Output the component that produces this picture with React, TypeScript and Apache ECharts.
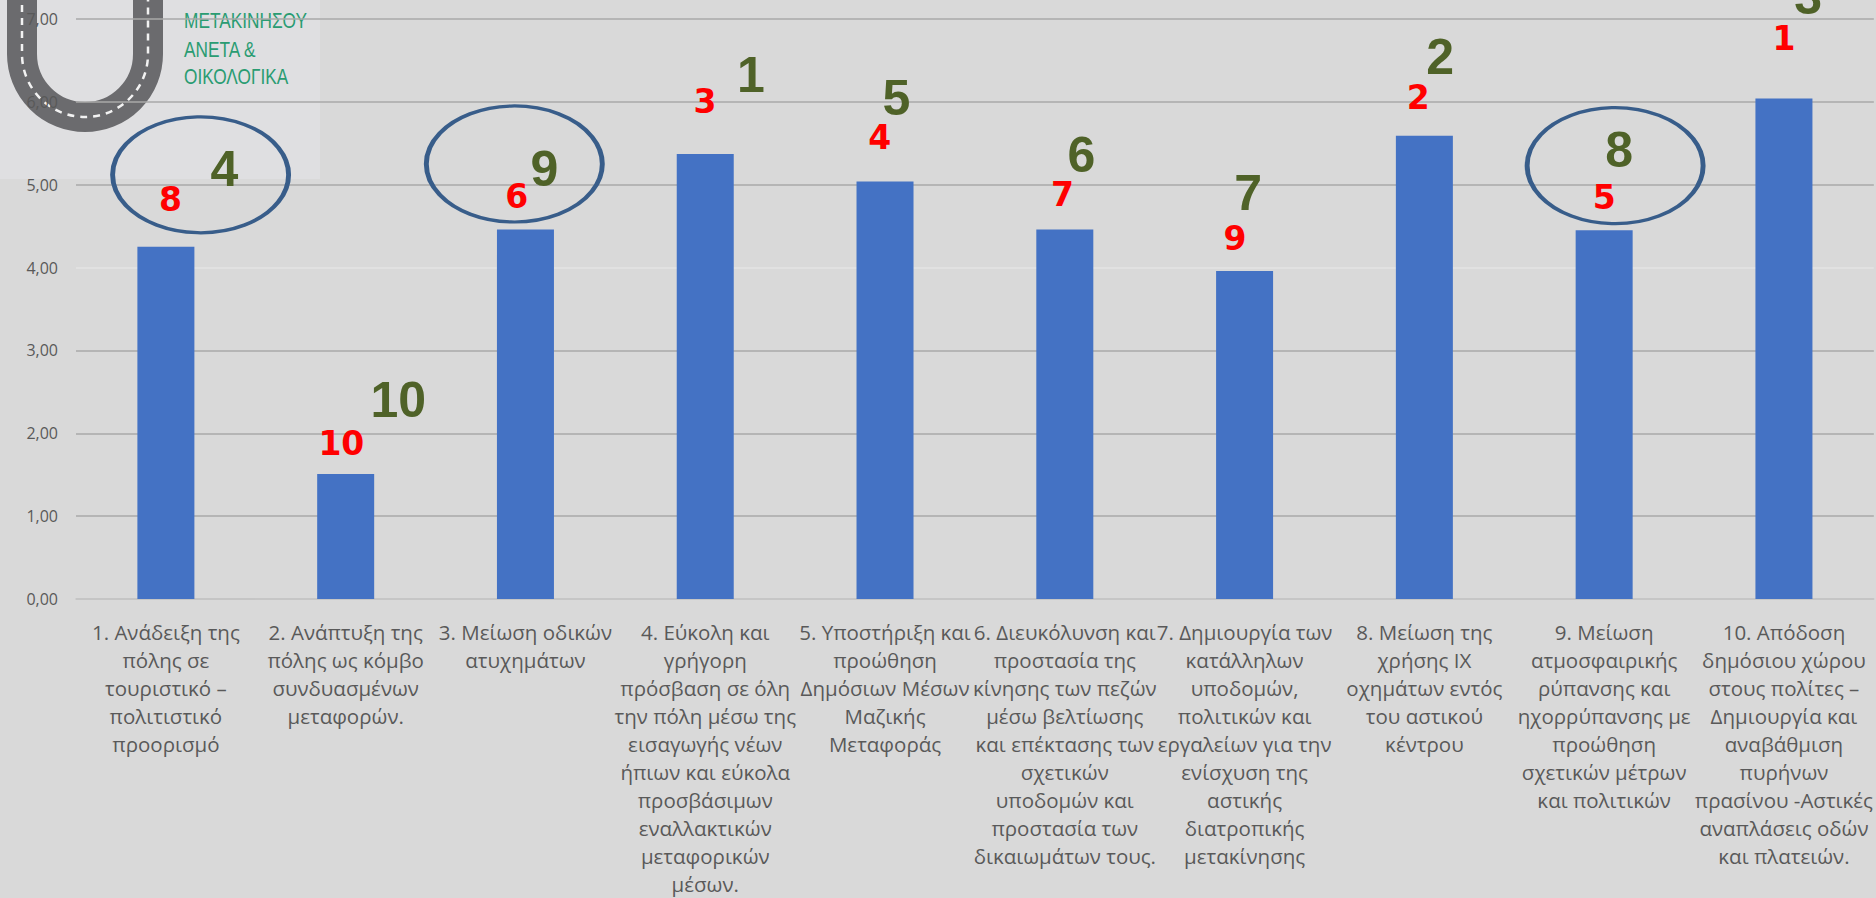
import React, { useEffect, useRef } from "react";
import * as echarts from "echarts";

// ---------- data ----------
const categories: string[] = [
  "1. Ανάδειξη της\nπόλης σε\nτουριστικό –\nπολιτιστικό\nπροορισμό",
  "2. Ανάπτυξη της\nπόλης ως κόμβο\nσυνδυασμένων\nμεταφορών.",
  "3. Μείωση οδικών\nατυχημάτων",
  "4. Εύκολη και\nγρήγορη\nπρόσβαση σε όλη\nτην πόλη μέσω της\nεισαγωγής νέων\nήπιων και εύκολα\nπροσβάσιμων\nεναλλακτικών\nμεταφορικών\nμέσων.",
  "5. Υποστήριξη και\nπροώθηση\nΔημόσιων Μέσων\nΜαζικής\nΜεταφοράς",
  "6. Διευκόλυνση και\nπροστασία της\nκίνησης των πεζών\nμέσω βελτίωσης\nκαι επέκτασης των\nσχετικών\nυποδομών και\nπροστασία των\nδικαιωμάτων τους.",
  "7. Δημιουργία των\nκατάλληλων\nυποδομών,\nπολιτικών και\nεργαλείων για την\nενίσχυση της\nαστικής\nδιατροπικής\nμετακίνησης",
  "8. Μείωση της\nχρήσης ΙΧ\nοχημάτων εντός\nτου αστικού\nκέντρου",
  "9. Μείωση\nατμοσφαιρικής\nρύπανσης και\nηχορρύπανσης με\nπροώθηση\nσχετικών μέτρων\nκαι πολιτικών",
  "10. Απόδοση\nδημόσιου χώρου\nστους πολίτες –\nΔημιουργία και\nαναβάθμιση\nπυρήνων\nπρασίνου -Αστικές\nαναπλάσεις οδών\nκαι πλατειών.",
];

const scores: number[] = [4.25, 1.51, 4.46, 5.37, 5.04, 4.46, 3.96, 5.59, 4.45, 6.04];

const yTickValues: number[] = [0, 1, 2, 3, 4, 5, 6, 7];

// rank annotations (red and green)
const redRanks: number[] = [8, 10, 6, 3, 4, 7, 9, 2, 5, 1];
const greenRanks: number[] = [4, 10, 9, 1, 5, 6, 7, 2, 8, 3];

// annotation anchors in data space (category index, value)
const redAnchorX: number[] = [0.025, 0.976, 1.952, 2.999, 3.971, 4.987, 5.947, 6.966, 8.0, 9.0];
const redAnchorY: number[] = [4.82, 1.88, 4.855, 6.01, 5.57, 4.88, 4.35, 6.05, 4.85, 6.77];
const greenAnchorX: number[] = [0.325, 1.293, 2.105, 3.254, 4.063, 5.092, 6.02, 7.088, 8.084, 9.135];
const greenAnchorY: number[] = [5.19, 2.4, 5.19, 6.33, 6.05, 5.36, 4.9, 6.54, 5.42, 7.26];
const ellipseAnchorX: number[] = [0.193, 1.938, 8.061];
const ellipseAnchorY: number[] = [5.12, 5.25, 5.23];

const logoLines: string[] = ["ΜΕΤΑΚΙΝΗΣΟΥ", "ΑΝΕΤΑ &", "ΟΙΚΟΛΟΓΙΚΑ"];

// ---------- logo shape ----------
const ROAD_D = "M22 -8 L22 54 A63 63 0 0 0 148 54 L148 -8";
echarts.graphic.registerShape("roadLogo", echarts.graphic.extendPath(ROAD_D, {}));

function buildOption() {
  const gridLineColors = yTickValues.map((v) =>
    v === 0 ? "#c4c4c4" : v === 4 ? "#e3e3e3" : "#a8a8a8"
  );

  const logoTextY = [20, 49.5, 76.5];

  return {
    animation: false,
    backgroundColor: "#d9d9d9",
    graphic: [
      {
        type: "rect",
        z: 0,
        silent: true,
        shape: { x: 0, y: 0, width: 320, height: 179 },
        style: { fill: "#dfdfe1" },
      },
      {
        type: "roadLogo",
        z: 1,
        silent: true,
        x: 0,
        y: 0,
        style: { fill: "none", stroke: "#6b6b6e", lineWidth: 30 },
      },
      {
        type: "roadLogo",
        z: 1,
        silent: true,
        x: 0,
        y: 0,
        style: { fill: "none", stroke: "#f2f2f2", lineWidth: 2.5, lineDash: [7, 6] },
      },
      ...logoLines.map((t, i) => ({
        type: "text",
        z: 1,
        silent: true,
        x: 184,
        y: logoTextY[i],
        scaleX: 0.785,
        style: {
          text: t,
          fill: "#2a9c72",
          fontSize: 22,
          fontFamily: "'Liberation Sans', Arial, sans-serif",
          align: "left",
          verticalAlign: "middle",
        },
      })),
    ],
    grid: { left: 76, right: 2, top: 19, bottom: 290, containLabel: false },
    xAxis: [
      {
        type: "category",
        data: categories,
        z: 10,
        axisTick: { show: false },
        axisLine: { show: true, lineStyle: { color: "#c4c4c4", width: 1.5 } },
        axisLabel: {
          interval: 0,
          color: "#595959",
          fontSize: 20.5,
          lineHeight: 28,
          fontFamily: "'Open Sans', sans-serif",
          margin: 19,
          align: "center",
        },
        splitLine: { show: false },
      },
      { type: "value", min: -0.5, max: 9.5, show: false },
    ],
    yAxis: {
      type: "value",
      min: 0,
      max: 7,
      interval: 1,
      z: 10,
      axisLine: { show: false },
      axisTick: { show: false },
      axisLabel: {
        color: "#595959",
        fontSize: 16,
        fontFamily: "'Open Sans', sans-serif",
        margin: 18,
        formatter: (v: number) => v.toFixed(2).replace(".", ","),
      },
      splitLine: { show: true, lineStyle: { color: gridLineColors, width: 1.5 } },
    },
    series: [
      {
        type: "bar",
        data: scores,
        barWidth: 57,
        z: 12,
        itemStyle: { color: "#4472c4" },
        silent: true,
      },
      {
        type: "scatter",
        xAxisIndex: 1,
        clip: false,
        silent: true,
        z: 13,
        symbol: "circle",
        symbolSize: [176, 116],
        itemStyle: { color: "rgba(0,0,0,0)", borderColor: "#385d8a", borderWidth: 4, opacity: 1 },
        data: ellipseAnchorX.map((x, i) => [x, ellipseAnchorY[i]]),
      },
      {
        type: "scatter",
        xAxisIndex: 1,
        clip: false,
        silent: true,
        z: 14,
        symbol: "circle",
        symbolSize: 1,
        itemStyle: { color: "rgba(0,0,0,0)", opacity: 1 },
        label: {
          show: true,
          position: "inside",
          color: "#ff0000",
          fontSize: 33,
          fontWeight: "bold",
          fontFamily: "'DejaVu Sans', sans-serif",
          formatter: (p: any) => String(p.value[2]),
        },
        data: redRanks.map((r, i) => [redAnchorX[i], redAnchorY[i], r]),
      },
      {
        type: "scatter",
        xAxisIndex: 1,
        clip: false,
        silent: true,
        z: 14,
        symbol: "circle",
        symbolSize: 1,
        itemStyle: { color: "rgba(0,0,0,0)", opacity: 1 },
        label: {
          show: true,
          position: "inside",
          color: "#4f6228",
          fontSize: 50,
          fontWeight: "bold",
          fontFamily: "'Liberation Sans', Arial, sans-serif",
          formatter: (p: any) => String(p.value[2]),
        },
        data: greenRanks.map((r, i) => [greenAnchorX[i], greenAnchorY[i], r]),
      },
    ],
  };
}

export default function App() {
  const ref = useRef<HTMLDivElement>(null);
  useEffect(() => {
    document.body.style.margin = "0";
    if (!ref.current) return;
    const chart = echarts.init(ref.current, null, { renderer: "svg" });
    chart.setOption(buildOption() as any);
    return () => chart.dispose();
  }, []);
  return <div ref={ref} style={{ width: 1876, height: 898 }} />;
}
